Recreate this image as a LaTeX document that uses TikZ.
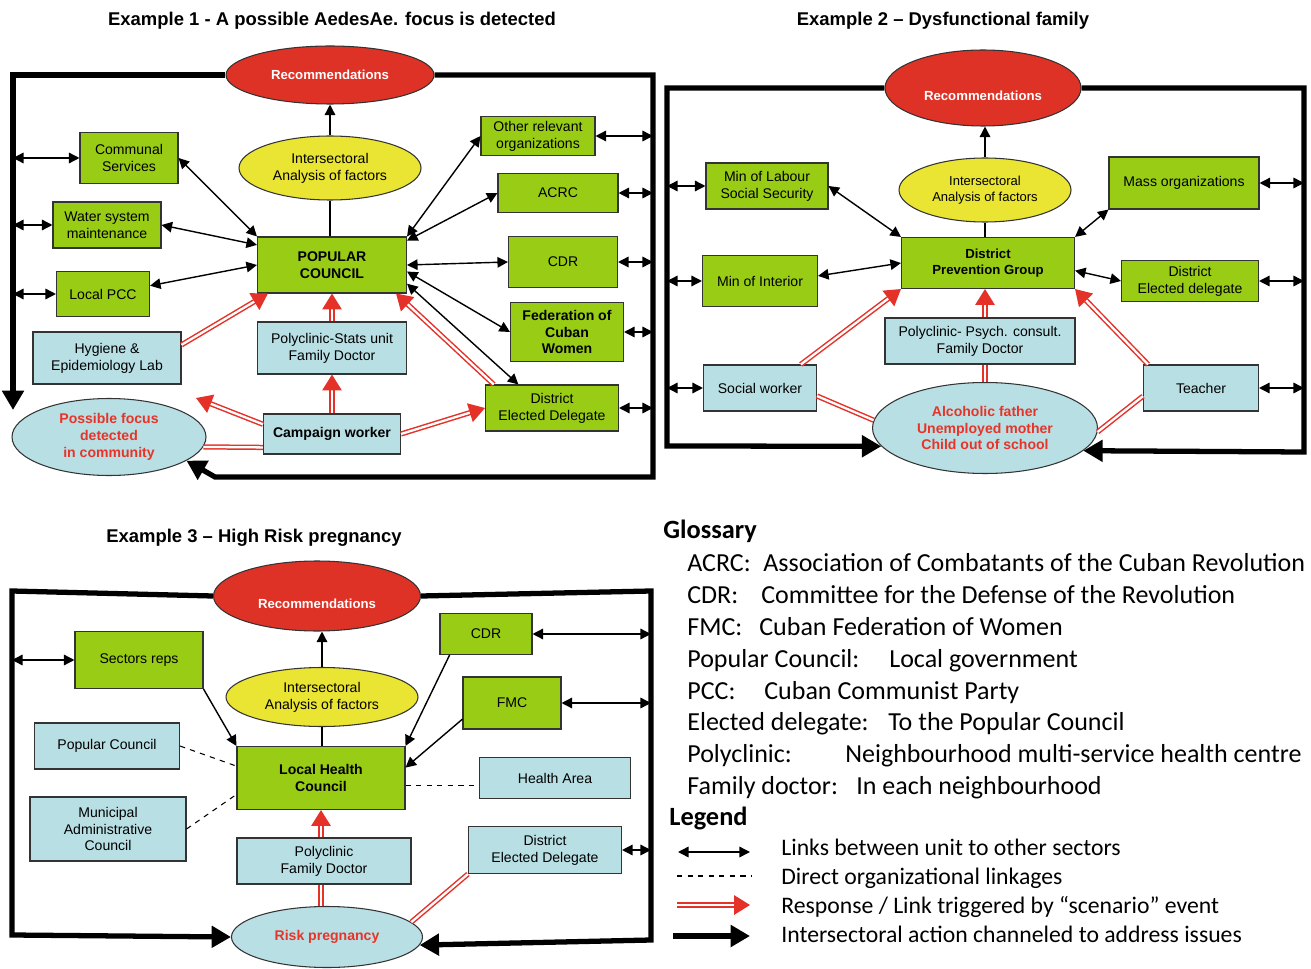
\documentclass[tikz,border=0pt]{standalone}
\usepackage{fontspec}
\setmainfont{Liberation Sans}
\newfontfamily\glosfont{Carlito}
\usetikzlibrary{arrows.meta,shapes.geometric}
\definecolor{grn}{RGB}{153,204,20}
\definecolor{lbl}{RGB}{184,223,228}
\definecolor{rdf}{RGB}{222,50,38}
\definecolor{ylw}{RGB}{234,228,50}
\definecolor{rtx}{RGB}{232,52,40}
\definecolor{rd}{RGB}{228,50,40}
\begin{document}
\begin{tikzpicture}[x=0.02cm, y=-0.02cm,
  wh/.style 2 args={minimum width=#1*0.02cm, minimum height=#2*0.02cm},
  gbox/.style={draw=black!80, line width=0.6pt, fill=grn, align=center, inner sep=1pt, font=\fontsize{8}{9.6}\selectfont},
  gboxb/.style={gbox, font=\bfseries\fontsize{8}{9.6}\selectfont},
  bbox/.style={gbox, fill=lbl},
  bboxb/.style={gboxb, fill=lbl},
  recm/.style={ellipse, draw=black!80, line width=0.6pt, fill=rdf, text=white, inner sep=0pt, font=\bfseries\fontsize{7.5}{9}\selectfont},
  lowtxt/.style={text height=14.4pt, text depth=0pt},
  isect/.style={ellipse, draw=black!80, line width=0.6pt, fill=ylw, align=center, inner sep=0pt, font=\fontsize{8}{9.6}\selectfont},
  scen/.style={ellipse, draw=black!80, line width=0.6pt, fill=lbl, text=rtx, align=center, inner sep=0pt, font=\bfseries\fontsize{8}{9.6}\selectfont},
  ttl/.style={font=\bfseries\fontsize{10.5}{12}\selectfont},
  lnk/.style={line width=0.8pt, {Triangle[length=6pt,width=6pt]}-{Triangle[length=6pt,width=6pt]}},
  ar/.style={line width=0.8pt, -{Triangle[length=6pt,width=6pt]}},
  ln/.style={line width=0.8pt},
  resp/.style={draw=rd, line width=0.85pt, double=white, double distance=1.3pt, -{Triangle[length=9pt,width=11pt]}},
  respl/.style={draw=rd, line width=0.85pt, double=white, double distance=1.3pt},
  act/.style={line width=3pt, -{Triangle[length=11pt,width=12pt]}},
  org/.style={dashed, line width=0.6pt},
  gl/.style={anchor=base west, inner sep=0pt, font=\glosfont\fontsize{14.8}{17}\selectfont},
  lgt/.style={gl, font=\glosfont\fontsize{13.5}{16}\selectfont},
  glb/.style={anchor=base west, inner sep=0pt, font=\glosfont\bfseries\fontsize{15}{18}\selectfont}]
\useasboundingbox (0,0) rectangle (1311,969);

\node[ttl] (t1) at (332,21) {Example 1 - A possible AedesAe. focus is detected};
\node[recm, wh={208}{58}] (rec1) at (330,75) {Recommendations};
\node[isect, wh={182}{64}] (int1) at (330,168) {Intersectoral\\Analysis of factors};
\node[gboxb, wh={149}{56}] (pc1) at (332,265) {POPULAR\\COUNCIL};
\node[gbox, wh={98}{51}] (com1) at (129,158) {Communal\\Services};
\node[gbox, wh={108}{46}] (wat1) at (107,225) {Water system\\maintenance};
\node[gbox, wh={93}{45}] (pcc1) at (103,294) {Local PCC};
\node[bbox, wh={148}{52}] (hyg1) at (107,358) {Hygiene \&\\Epidemiology Lab};
\node[bbox, wh={149}{52}] (pol1) at (332,348) {Polyclinic-Stats unit\\Family Doctor};
\node[bboxb, wh={137}{40}] (cmp1) at (332,434) {Campaign worker};
\node[scen, wh={194}{77}] (foc1) at (109,437) {Possible focus\\detected\\in community};
\node[gbox, wh={114}{39}] (oth1) at (538,136) {Other relevant\\organizations};
\node[gbox, wh={120}{39}] (acr1) at (558,193) {ACRC};
\node[gbox, wh={109}{51}] (cdr1) at (563,262) {CDR};
\node[gboxb, wh={113}{59}] (fed1) at (567,332) {Federation of\\Cuban\\Women};
\node[gbox, wh={133}{46}] (del1) at (552,408) {District\\Elected Delegate};
\coordinate (f1a) at (13,75);
\coordinate (f1b) at (13,410);
\coordinate (f1c) at (653,75);
\coordinate (f1d) at (653,477);
\coordinate (f1e) at (215,477);
\coordinate (c1) at (196,398);
\draw[act] (rec1.west) -- (f1a) -- (f1b);
\draw[act] (rec1.east) -- (f1c) -- (f1d) -- (f1e) -- (foc1.-17);
\draw[ar] (int1.north) -- (rec1.south);
\draw[ln] (int1.south) -- (int1.south |- pc1.north);
\draw[lnk] (com1.west) -- (com1.west -| f1a);
\draw[lnk] (wat1.west) -- (wat1.west -| f1a);
\draw[lnk] (pcc1.west) -- (pcc1.west -| f1a);
\draw[lnk] (oth1.east) -- (oth1.east -| f1c);
\draw[lnk] (acr1.east) -- (acr1.east -| f1c);
\draw[lnk] (cdr1.east) -- (cdr1.east -| f1c);
\draw[lnk] (fed1.east) -- (fed1.east -| f1c);
\draw[lnk] (del1.east) -- (del1.east -| f1c);
\draw[lnk] (com1.east) -- (pc1.north west);
\draw[lnk] (wat1.east) -- (pc1.165);
\draw[lnk] (pcc1.10) -- (pc1.west);
\draw[lnk] (oth1.west) -- (pc1.north east);
\draw[lnk] (acr1.west) -- (pc1.18);
\draw[lnk] (cdr1.west) -- (pc1.east);
\draw[lnk] (fed1.west) -- (pc1.-5);
\draw[lnk] (del1.145) -- (pc1.-14);
\draw[resp] (hyg1.10) -- (pc1.204);
\draw[resp] (pol1.north) -- (pc1.south);
\draw[resp] (cmp1.north) -- (pol1.south);
\draw[resp] (cmp1.172) -- (c1);
\draw[resp] (cmp1.east) -- (del1.west);
\draw[resp] (del1.158) -- (pc1.-24);
\draw[respl] (cmp1.191) -- (foc1.-6);

\node[ttl] (t2) at (943,21) {Example 2 – Dysfunctional family};
\node[recm, lowtxt, wh={196}{76}] (rec2) at (983,88) {Recommendations};
\node[isect, wh={172}{64}, font=\fontsize{7.4}{9}\selectfont] (int2) at (985,190) {Intersectoral\\Analysis of factors};
\node[gboxb, wh={173}{51}, font=\bfseries\fontsize{7.5}{9}\selectfont] (dpg2) at (988,263) {District\\Prevention Group};
\node[gbox, wh={122}{46}] (lab2) at (767,186) {Min of Labour\\Social Security};
\node[gbox, wh={115}{51}] (mint2) at (760,281) {Min of Interior};
\node[bbox, wh={113}{46}] (soc2) at (760,388) {Social worker};
\node[bbox, wh={190}{46}] (poly2) at (980,341) {Polyclinic- Psych. consult.\\Family Doctor};
\node[scen, wh={225}{91}] (alc2) at (985,428) {Alcoholic father\\Unemployed mother\\Child out of school};
\node[gbox, wh={150}{52}] (mass2) at (1184,183) {Mass organizations};
\node[gbox, wh={137}{41}] (del2) at (1190,281) {District\\Elected delegate};
\node[bbox, wh={115}{46}] (tea2) at (1201,388) {Teacher};
\coordinate (f2a) at (667,88);
\coordinate (f2b) at (667,446);
\coordinate (f2c) at (1304,88);
\coordinate (f2d) at (1304,452);
\draw[act] (rec2.west) -- (f2a) -- (f2b) -- (alc2.190);
\draw[act] (rec2.east) -- (f2c) -- (f2d) -- (alc2.-13);
\draw[ar] (int2.north) -- (int2.north |- rec2.south);
\draw[ln] (int2.south) -- (int2.south |- dpg2.north);
\draw[lnk] (lab2.west) -- (lab2.west -| f2a);
\draw[lnk] (mint2.west) -- (mint2.west -| f2a);
\draw[lnk] (soc2.west) -- (soc2.west -| f2a);
\draw[lnk] (mass2.east) -- (mass2.east -| f2c);
\draw[lnk] (del2.east) -- (del2.east -| f2c);
\draw[lnk] (tea2.east) -- (tea2.east -| f2c);
\draw[lnk] (lab2.east) -- (dpg2.north west);
\draw[lnk] (mint2.5) -- (dpg2.west);
\draw[lnk] (mass2.south west) -- (dpg2.north east);
\draw[lnk] (del2.west) -- (dpg2.-5);
\draw[resp] (soc2.30) -- (dpg2.south west);
\draw[resp] (poly2.north -| int2.south) -- (int2.south |- dpg2.south);
\draw[respl] (alc2.north -| int2.south) -- (int2.south |- poly2.south);
\draw[resp] (tea2.156) -- (dpg2.south east);
\draw[respl] (soc2.-8) -- (alc2.176);
\draw[respl] (tea2.188) -- (alc2.-2);

\node[ttl] (t3) at (254,538) {Example 3 – High Risk pregnancy};
\node[recm, lowtxt, wh={207}{70}] (rec3) at (317,596) {Recommendations};
\node[isect, wh={192}{59}] (int3) at (322,697) {Intersectoral\\Analysis of factors};
\node[gboxb, wh={168}{63}] (lhc3) at (321,778) {Local Health\\Council};
\node[gbox, wh={128}{57}] (sec3) at (139,660) {Sectors reps};
\node[gbox, wh={92}{41}] (cdr3) at (486,634) {CDR};
\node[gbox, wh={98}{52}] (fmc3) at (512,703) {FMC};
\node[bbox, wh={145}{46}] (pop3) at (107,746) {Popular Council};
\node[bbox, wh={151}{41}] (hea3) at (555,778) {Health Area};
\node[bbox, wh={156}{64}] (mun3) at (108,829) {Municipal\\Administrative\\Council};
\node[bbox, wh={174}{46}] (pol3) at (324,861) {Polyclinic\\Family Doctor};
\node[bbox, wh={153}{47}] (del3) at (545,850) {District\\Elected Delegate};
\node[scen, wh={191}{61}] (rsk3) at (327,937) {Risk pregnancy};
\coordinate (f3a) at (12,591);
\coordinate (f3b) at (12,935);
\coordinate (f3c) at (651,591);
\coordinate (f3d) at (651,940);
\draw[act] (rec3.west) -- (f3a) -- (f3b) -- (rsk3.west);
\draw[act] (rec3.east) -- (f3c) -- (f3d) -- (rsk3.-5);
\draw[ar] (int3.north) -- (int3.north |- rec3.south);
\draw[ln] (int3.south) -- (int3.south |- lhc3.north);
\draw[lnk] (sec3.west) -- (sec3.west -| f3a);
\draw[lnk] (cdr3.east) -- (cdr3.east -| f3c);
\draw[lnk] (fmc3.east) -- (fmc3.east -| f3c);
\draw[lnk] (del3.east) -- (del3.east -| f3c);
\draw[ar] (sec3.south east) -- (lhc3.north west);
\draw[ar] (cdr3.210) -- (lhc3.north east);
\draw[ar] (fmc3.198) -- (lhc3.7);
\draw[org] (pop3.east) -- (lhc3.172);
\draw[org] (mun3.east) -- (lhc3.191);
\draw[org] (lhc3.-5) -- (lhc3.-5 -| hea3.west);
\draw[resp] (pol3.north -| lhc3.south) -- (lhc3.south);
\draw[respl] (rsk3.north -| lhc3.south) -- (lhc3.south |- pol3.south);
\draw[respl] (del3.south west) -- (rsk3.10);

\node[glb] (gh) at (663,538) {Glossary};
\node[gl] (g1) at (687,571) {ACRC:};
\node[gl] (d1) at (763,571) {Association of Combatants of the Cuban Revolution};
\node[gl] (g2) at (687,603) {CDR:};
\node[gl] (d2) at (761,603) {Committee for the Defense of the Revolution};
\node[gl] (g3) at (687,635) {FMC:};
\node[gl] (d3) at (759,635) {Cuban Federation of Women};
\node[gl] (g4) at (687,667) {Popular Council:};
\node[gl] (d4) at (889,667) {Local government};
\node[gl] (g5) at (687,699) {PCC:};
\node[gl] (d5) at (764,699) {Cuban Communist Party};
\node[gl] (g6) at (687,730) {Elected delegate:};
\node[gl] (d6) at (888,730) {To the Popular Council};
\node[gl] (g7) at (687,762) {Polyclinic:};
\node[gl] (d7) at (845,762) {Neighbourhood multi-service health centre};
\node[gl] (g8) at (687,794) {Family doctor:};
\node[gl] (d8) at (856,794) {In each neighbourhood};

\node[glb] (lh) at (669,825) {Legend};
\coordinate (lg1a) at (678,852);
\coordinate (lg1b) at (750,852);
\coordinate (lg2a) at (677,876);
\coordinate (lg2b) at (752,876);
\coordinate (lg3a) at (677,905);
\coordinate (lg3b) at (750,905);
\coordinate (lg4a) at (673,936);
\coordinate (lg4b) at (750,936);
\draw[lnk] (lg1a) -- (lg1b);
\draw[org] (lg2a) -- (lg2b);
\draw[resp] (lg3a) -- (lg3b);
\draw[act] (lg4a) -- (lg4b);
\node[lgt] (l1) at (781,855) {Links between unit to other sectors};
\node[lgt] (l2) at (781,884) {Direct organizational linkages};
\node[lgt] (l3) at (781,913) {Response / Link triggered by “scenario” event};
\node[lgt] (l4) at (781,942) {Intersectoral action channeled to address issues};
\end{tikzpicture}
\end{document}
